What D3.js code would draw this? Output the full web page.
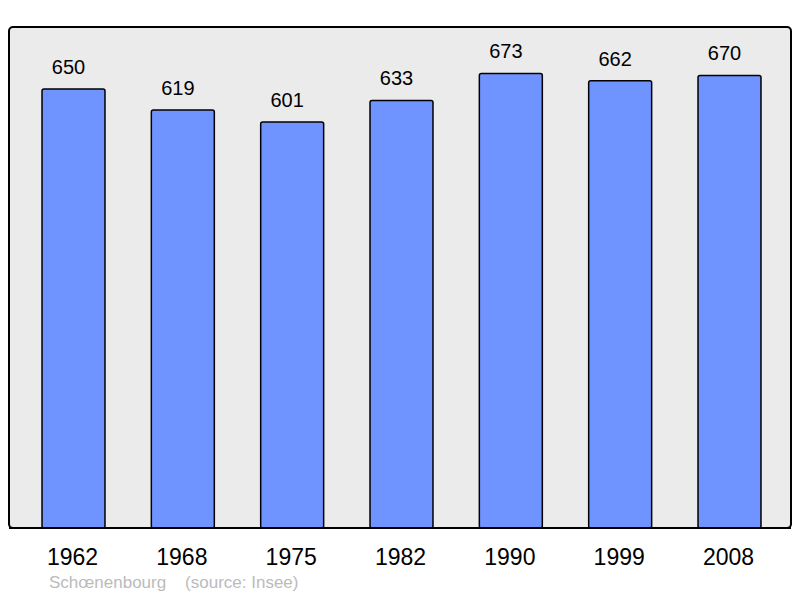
<!DOCTYPE html>
<html><head><meta charset="utf-8">
<script src="https://cdn.jsdelivr.net/npm/d3@7"></script>
<style>body{margin:0;background:#fff}svg{display:block}</style>
</head><body>
<script>
const years = ["1962","1968","1975","1982","1990","1999","2008"];
const population = [650, 619, 601, 633, 673, 662, 670];
const sourceText = "Schœnenbourg    (source: Insee)";

const W = 800, H = 598;
const frame = {x0: 9, y0: 27, x1: 791, y1: 528};
const font = "Liberation Sans, Arial, sans-serif";
const svg = d3.select("body").append("svg").attr("width", W).attr("height", H);

svg.append("rect").attr("x", frame.x0).attr("y", frame.y0)
  .attr("width", frame.x1 - frame.x0).attr("height", frame.y1 - frame.y0)
  .attr("rx", 4).attr("fill", "#ebebeb").attr("stroke", "#000").attr("stroke-width", 2);

const x = d3.scaleBand().domain(years).range([12, 791]).paddingInner(0.424).paddingOuter(0.2745);
const y = d3.scaleLinear().domain([0, 741.7]).range([frame.y1, frame.y0]);

const data = years.map((yr, i) => ({yr, v: population[i]}));

svg.selectAll("rect.bar").data(data).enter().append("rect").attr("class", "bar")
  .attr("x", d => x(d.yr)).attr("y", d => y(d.v))
  .attr("width", x.bandwidth()).attr("height", d => y(0) - y(d.v))
  .attr("rx", 2).attr("fill", "#7094ff").attr("stroke", "#000").attr("stroke-width", 1.5);

svg.append("line").attr("x1", frame.x0).attr("x2", frame.x1).attr("y1", frame.y1).attr("y2", frame.y1)
  .attr("stroke", "#000").attr("stroke-width", 2);

svg.selectAll("text.val").data(data).enter().append("text").attr("class", "val")
  .attr("x", d => x(d.yr) + x.bandwidth() / 2 - 5).attr("y", d => y(d.v) - 15)
  .attr("text-anchor", "middle").attr("font-family", font)
  .attr("font-size", 20).attr("fill", "#000").text(d => d.v);

const xAxis = svg.append("g").attr("transform", `translate(-1,${frame.y1})`)
  .call(d3.axisBottom(x).tickSize(0).tickPadding(0));
xAxis.select(".domain").remove();
xAxis.selectAll("text").attr("dy", null).attr("y", 37).attr("font-family", font)
  .attr("font-size", 23).attr("fill", "#000");

svg.append("text").attr("x", 49).attr("y", 588).attr("font-family", font)
  .attr("font-size", 17).attr("fill", "#bbbbbb").attr("xml:space", "preserve")
  .style("white-space", "pre").text(sourceText);
</script>
</body></html>
